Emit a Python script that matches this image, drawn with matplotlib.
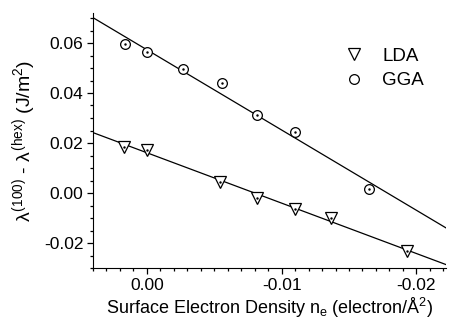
import numpy as np
import matplotlib
matplotlib.use('Agg')
import matplotlib.pyplot as plt

# font settings (Arial-like)
plt.rcParams['font.family'] = ['Liberation Sans', 'DejaVu Sans']
plt.rcParams['mathtext.fontset'] = 'custom'
plt.rcParams['mathtext.rm'] = 'Liberation Sans'
plt.rcParams['mathtext.it'] = 'Liberation Sans'

# data
lda_x = [0.0017, 0.0, -0.0054, -0.0082, -0.0110, -0.0137, -0.0193]
lda_y = [0.0184, 0.0172, 0.0044, -0.0020, -0.0064, -0.0100, -0.0232]
gga_x = [0.0016, 0.0, -0.0027, -0.0056, -0.0082, -0.0110, -0.0165]
gga_y = [0.0596, 0.0564, 0.0496, 0.0440, 0.0312, 0.0244, 0.0016]

# fitted lines (slope, intercept)
lda_fit = [2.015, 0.0161]
gga_fit = [3.21, 0.0573]

xlim = [0.004, -0.0222]
ylim = [-0.030, 0.072]

fig = plt.figure(figsize=(4.51, 3.28), dpi=100)
ax = fig.add_axes([93/451, 60/328, 353/451, 255/328])

xx = np.array(xlim)
ax.plot(xx, lda_fit[0]*xx + lda_fit[1], color='black', lw=0.9)
ax.plot(xx, gga_fit[0]*xx + gga_fit[1], color='black', lw=0.9)

ax.plot(lda_x, lda_y, linestyle='none', marker='v', ms=8.5, mfc='white', mec='black', mew=0.9, label='LDA')
ax.plot(gga_x, gga_y, linestyle='none', marker='o', ms=7, mfc='white', mec='black', mew=0.9, label='GGA')
# small dot in the middle of the symbols
ax.plot(lda_x, lda_y, linestyle='none', marker='.', ms=1.5, color='black')
ax.plot(gga_x, gga_y, linestyle='none', marker='.', ms=1.5, color='black')

ax.set_xlim(xlim)
ax.set_ylim(ylim)
ax.set_xticks([0.0, -0.01, -0.02])
ax.set_xticklabels(['0.00', '-0.01', '-0.02'])
ax.set_xticks(np.arange(-22, 5)/1000.0, minor=True)
ax.set_yticks([-0.02, 0.0, 0.02, 0.04, 0.06])
ax.set_yticklabels(['-0.02', '0.00', '0.02', '0.04', '0.06'])
ax.set_yticks(np.arange(-6, 15)*0.005, minor=True)

ax.spines['top'].set_visible(False)
ax.spines['right'].set_visible(False)
ax.tick_params(which='major', direction='out', length=4, width=0.9, labelsize=12.5, pad=3)
ax.tick_params(which='minor', direction='out', length=2.5, width=0.9)

ax.set_xlabel(r'Surface Electron Density n$_\mathregular{e}$ (electron/Å$^\mathregular{2}$)', fontsize=13, labelpad=2)
ax.set_ylabel(r'$\lambda^{(100)}$ - $\lambda^{(hex)}$ (J/m$^2$)', fontsize=14, labelpad=4)

leg = ax.legend(loc='upper right', bbox_to_anchor=(0.985, 0.93), frameon=False, fontsize=13.5,
                handlelength=1.0, handletextpad=1.0, labelspacing=0.4)

plt.savefig('out.png', dpi=100)
